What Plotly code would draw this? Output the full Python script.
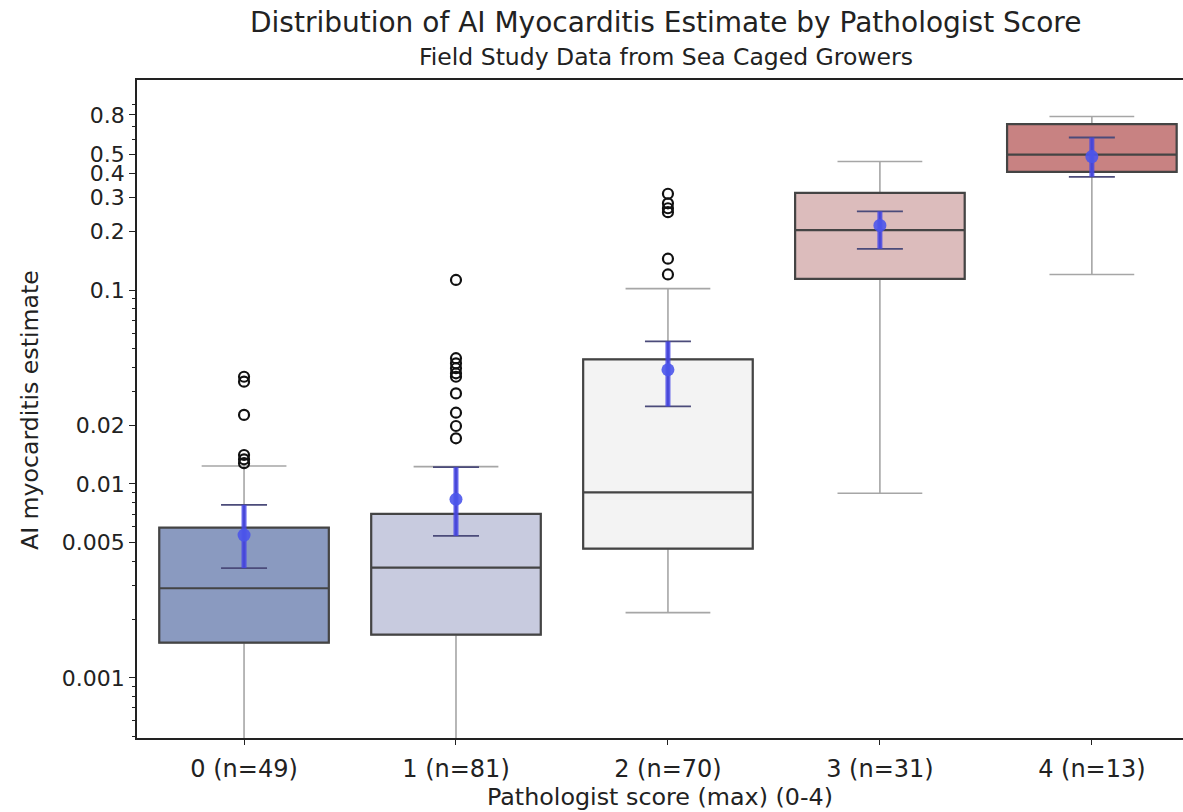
import plotly.graph_objects as go
import numpy as np

# ---- data ----
categories = ["0 (n=49)", "1 (n=81)", "2 (n=70)", "3 (n=31)", "4 (n=13)"]
q1 = [0.00152, 0.00167, 0.00464, 0.1140, 0.4068]
median = [0.00290, 0.00370, 0.00904, 0.2038, 0.4989]
q3 = [0.00595, 0.00701, 0.0439, 0.3166, 0.7173]
lower_whisker = [0.00030, 0.00030, 0.00217, 0.00895, 0.1203]
upper_whisker = [0.01238, 0.01228, 0.1017, 0.4596, 0.7850]
outliers = [
    [0.0357, 0.0337, 0.0227, 0.0141, 0.0134, 0.0128],
    [0.1127, 0.0445, 0.0419, 0.0395, 0.0372, 0.0357, 0.0293, 0.0233, 0.0199, 0.0172],
    [0.3135, 0.280, 0.264, 0.252, 0.145, 0.1203],
    [],
    [],
]
mean_est = [0.00545, 0.00834, 0.0388, 0.2153, 0.4876]
ci_low = [0.00368, 0.0054, 0.0251, 0.1631, 0.3834]
ci_high = [0.0078, 0.0122, 0.0543, 0.2544, 0.6115]
box_colors = ["#8a9ac0", "#c8cbdf", "#f3f3f3", "#dcbcbc", "#c88282"]

major_ticks = [0.001, 0.005, 0.01, 0.02, 0.1, 0.2, 0.3, 0.4, 0.5, 0.8]
major_labels = ["0.001", "0.005", "0.01", "0.02", "0.1", "0.2", "0.3", "0.4", "0.5", "0.8"]

FONT = "DejaVu Sans"
TXT = "#222222"

xpos = list(range(len(categories)))
minor_ticks = [m * 10.0 ** e for e in (-4, -3, -2, -1) for m in range(1, 10)]
minor_ticks = [v for v in minor_ticks if 0.00049 < v < 1.2 and
               not any(abs(v - t) / t < 1e-6 for t in major_ticks)]

fig = go.Figure()

for i in xpos:
    # box with grey whiskers
    fig.add_trace(go.Box(
        x=[i], q1=[q1[i]], median=[median[i]], q3=[q3[i]],
        lowerfence=[lower_whisker[i]], upperfence=[upper_whisker[i]],
        width=0.8, whiskerwidth=0.5, fillcolor=box_colors[i],
        line=dict(color="#a6a6a6", width=1.6), boxpoints=False,
        showlegend=False, hoverinfo="skip"))
    # dark box outline + median on top
    fig.add_trace(go.Box(
        x=[i], q1=[q1[i]], median=[median[i]], q3=[q3[i]],
        lowerfence=[q1[i]], upperfence=[q3[i]],
        width=0.8, whiskerwidth=0, fillcolor=box_colors[i],
        line=dict(color="#444444", width=2.2), boxpoints=False,
        showlegend=False, hoverinfo="skip"))

# outliers
ox, oy = [], []
for i in xpos:
    ox += [i] * len(outliers[i])
    oy += outliers[i]
fig.add_trace(go.Scatter(
    x=ox, y=oy, mode="markers",
    marker=dict(symbol="circle-open", size=10, color="#111111", line=dict(width=2.2)),
    showlegend=False, hoverinfo="skip"))

# mean with CI: caps
fig.add_trace(go.Scatter(
    x=xpos, y=mean_est, mode="markers",
    marker=dict(size=1, color="rgba(0,0,0,0)"),
    error_y=dict(type="data", symmetric=False,
                 array=[h - m for h, m in zip(ci_high, mean_est)],
                 arrayminus=[m - l for m, l in zip(mean_est, ci_low)],
                 color="#4b4b7a", thickness=1.8, width=23),
    showlegend=False, hoverinfo="skip"))
# CI line
lx, ly = [], []
for i in xpos:
    lx += [i, i, None]
    ly += [ci_low[i], ci_high[i], None]
fig.add_trace(go.Scatter(
    x=lx, y=ly, mode="lines", line=dict(color="rgba(70,70,230,0.85)", width=5),
    showlegend=False, hoverinfo="skip"))
fig.add_trace(go.Scatter(
    x=xpos, y=mean_est, mode="markers",
    marker=dict(size=13, color="rgba(75,85,235,0.9)"),
    showlegend=False, hoverinfo="skip"))

fig.update_layout(
    width=1183, height=812,
    margin=dict(l=137, r=0, t=80, b=74),
    paper_bgcolor="white", plot_bgcolor="white",
    boxmode="overlay",
    font=dict(family=FONT, color=TXT),
    xaxis=dict(
        range=[-0.505, 4.43], tickmode="array", tickvals=xpos, ticktext=categories,
        showgrid=False, zeroline=False, showline=True, linecolor="#222222",
        linewidth=1.5, mirror=True, ticks="outside", ticklen=5, tickcolor="#222222",
        ticklabelstandoff=3,
        tickfont=dict(family=FONT, size=24, color=TXT)),
    yaxis=dict(
        type="log", range=[np.log10(0.00049), np.log10(1.21)],
        tickmode="array", tickvals=major_ticks, ticktext=major_labels,
        showgrid=False, zeroline=False, showline=True, linecolor="#222222",
        linewidth=1.5, ticks="outside", ticklen=6, tickcolor="#222222",
        tickfont=dict(family=FONT, size=22, color=TXT),
        minor=dict(tickmode="array", tickvals=minor_ticks, ticks="outside",
                   ticklen=3, tickcolor="#222222", showgrid=False)),
    annotations=[
        dict(text="Distribution of AI Myocarditis Estimate by Pathologist Score",
             xref="paper", yref="paper", x=0.506, y=1 + 58 / 658,
             xanchor="center", yanchor="middle", showarrow=False,
             font=dict(family=FONT, size=28, color=TXT)),
        dict(text="Field Study Data from Sea Caged Growers",
             xref="paper", yref="paper", x=0.506, y=1 + 23 / 658,
             xanchor="center", yanchor="middle", showarrow=False,
             font=dict(family=FONT, size=23.5, color=TXT)),
        dict(text="Pathologist score (max) (0-4)",
             xref="paper", yref="paper", x=0.5, y=-59 / 658,
             xanchor="center", yanchor="middle", showarrow=False,
             font=dict(family=FONT, size=23.8, color=TXT)),
        dict(text="AI myocarditis estimate", textangle=-90,
             xref="paper", yref="paper", x=-107 / 1046, y=0.4985,
             xanchor="center", yanchor="middle", showarrow=False,
             font=dict(family=FONT, size=23.6, color=TXT)),
    ],
)

fig.write_html("out.html", post_script="document.body.style.margin='0';",
               config={"displayModeBar": False})
